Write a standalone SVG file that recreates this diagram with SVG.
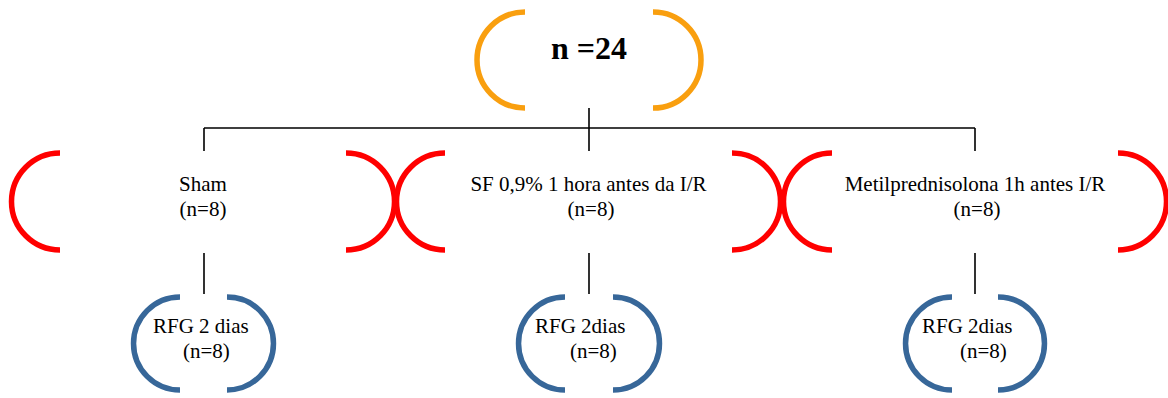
<svg xmlns="http://www.w3.org/2000/svg" width="1168" height="398" viewBox="0 0 1168 398">
<style>
.bg{fill:#ffffff}
.orange{fill:none;stroke:#F99F0F;stroke-width:5.5}
.red{fill:none;stroke:#FF0000;stroke-width:5.5}
.blue{fill:none;stroke:#376799;stroke-width:5.5}
.conn{fill:none;stroke:#000000;stroke-width:1.6}
.t{font-family:"Liberation Serif","Times New Roman",serif;font-size:21px;fill:#000000}
.tb{font-family:"Liberation Serif","Times New Roman",serif;font-size:32px;font-weight:bold;fill:#000000}
.mid{text-anchor:middle}
</style>
<rect class="bg" x="0" y="0" width="1168" height="398"/>
<g id="connectors">
<path class="conn" d="M589,108 V128 M204,128 H975 M204,128 V151 M589,128 V151 M975,128 V151"/>
<path class="conn" d="M204,253 V294 M589,253 V294 M975,253 V294"/>
</g>
<g id="node-total">
<path class="orange" d="M525,12 A48,48 0 0 0 525,108"/>
<path class="orange" d="M653,12 A48,48 0 0 1 653,108"/>
<text class="tb mid" x="589" y="59">n =24</text>
</g>
<g id="node-sham">
<path class="red" d="M60,153 A48.5,48.5 0 0 0 60,250"/>
<path class="red" d="M346,153 A48.5,48.5 0 0 1 346,250"/>
<text class="t mid" x="203" y="191">Sham</text>
<text class="t mid" x="203" y="216">(n=8)</text>
</g>
<g id="node-sf">
<path class="red" d="M445,153 A48.5,48.5 0 0 0 445,250"/>
<path class="red" d="M732,153 A48.5,48.5 0 0 1 732,250"/>
<text class="t mid" x="588.5" y="191">SF 0,9% 1 hora antes da I/R</text>
<text class="t mid" x="591" y="216">(n=8)</text>
</g>
<g id="node-metil">
<path class="red" d="M832,153 A48.5,48.5 0 0 0 832,250"/>
<path class="red" d="M1118,153 A48.5,48.5 0 0 1 1118,250"/>
<text class="t mid" x="975" y="191">Metilprednisolona 1h antes I/R</text>
<text class="t mid" x="977" y="216">(n=8)</text>
</g>
<g id="node-rfg1">
<path class="blue" d="M180,297 A46.5,46.5 0 0 0 180,390"/>
<path class="blue" d="M227,297 A46.5,46.5 0 0 1 227,390"/>
<text class="t" x="153" y="333">RFG 2 dias</text>
<text class="t" x="183" y="358">(n=8)</text>
</g>
<g id="node-rfg2">
<path class="blue" d="M565,297 A46.5,46.5 0 0 0 565,390"/>
<path class="blue" d="M613,297 A46.5,46.5 0 0 1 613,390"/>
<text class="t" x="535" y="333">RFG 2dias</text>
<text class="t" x="570" y="358">(n=8)</text>
</g>
<g id="node-rfg3">
<path class="blue" d="M952,297 A46.5,46.5 0 0 0 952,390"/>
<path class="blue" d="M998,297 A46.5,46.5 0 0 1 998,390"/>
<text class="t" x="922" y="333">RFG 2dias</text>
<text class="t" x="960" y="358">(n=8)</text>
</g>
</svg>
